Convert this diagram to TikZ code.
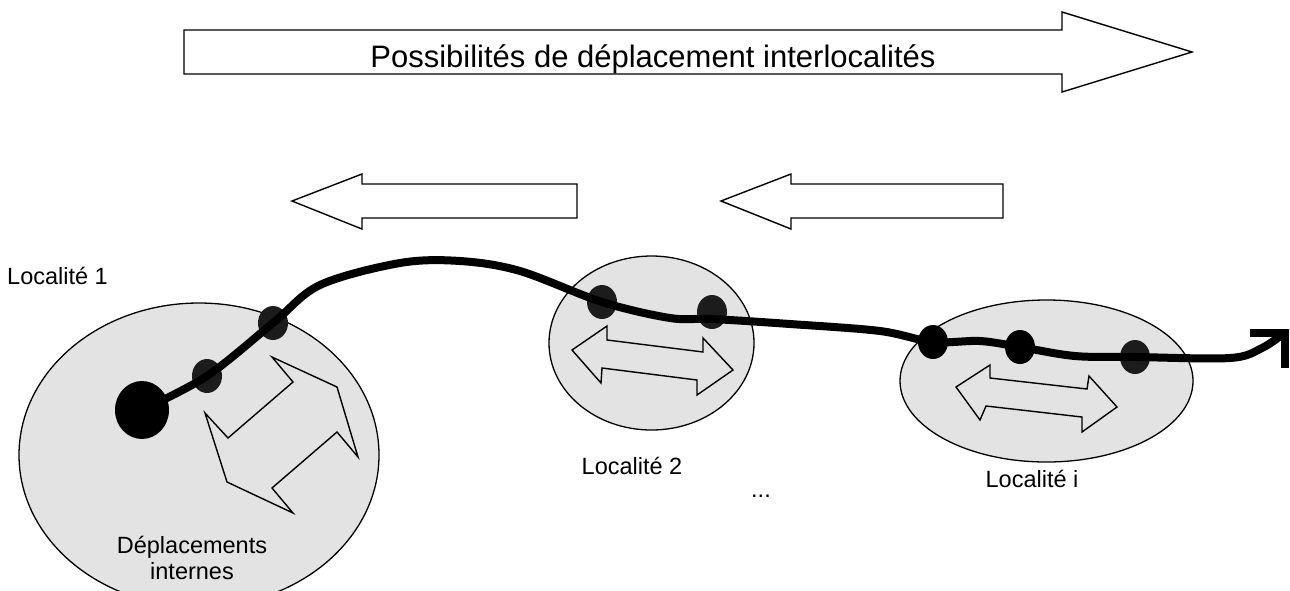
\documentclass[tikz,border=0pt]{standalone}
\usepackage{fontspec}
\setmainfont{Liberation Sans}
\usetikzlibrary{shapes.geometric}
\definecolor{zonegray}{HTML}{E3E3E3}
\definecolor{stopgray}{HTML}{1C1C1C}
\begin{document}
\begin{tikzpicture}[x=1pt,y=-1pt,
  zone/.style={ellipse, draw=black, line width=1.3pt, fill=zonegray, inner sep=0pt, outer sep=0pt},
  bigarrow/.style={draw=black, line width=1.4pt, fill=white, line join=miter},
  dblarrow/.style={draw=black, line width=1.4pt, line join=miter},
  route/.style={line width=8pt, draw=black},
  stopdot/.style={ellipse, fill=stopgray, inner sep=0pt, outer sep=0pt, minimum width=30pt, minimum height=34pt},
  lbl/.style={font=\fontsize{23.5}{28}\selectfont, inner sep=0pt}
]
\useasboundingbox (0,0) rectangle (1290,590);
\fill[white] (0,0) rectangle (1290,590);

% top arrow
\draw[bigarrow] (184,30) -- (1062,30) -- (1062,12) -- (1192,52) -- (1062,92) -- (1062,74) -- (184,74) -- cycle;
\node[font=\fontsize{31}{36}\selectfont, anchor=base, inner sep=0pt] (title) at (653,67) {Possibilités de déplacement interlocalités};

% left arrows
\draw[bigarrow] (577,184) -- (362,184) -- (362,174) -- (292,201) -- (362,229) -- (362,218) -- (577,218) -- cycle;
\draw[bigarrow] (1003,184) -- (791,184) -- (791,174) -- (721,201) -- (791,229) -- (791,218) -- (1003,218) -- cycle;

% zones
\node[zone, minimum width=360pt, minimum height=304pt] (loc1) at (199,455) {};
\node[zone, minimum width=205pt, minimum height=174pt] (loc2) at (651.5,343) {};
\node[zone, minimum width=293pt, minimum height=162pt] (loc3) at (1046.5,381) {};

% internal double arrows
\draw[dblarrow] (272,357) -- (337,387) -- (358,457) -- (337,432) -- (272,488) -- (293,513) -- (227,482) -- (205,413) -- (228,438) -- (293,382) -- cycle;
\draw[dblarrow] (572,350) -- (607,326) -- (607,340) -- (703,352) -- (703,338) -- (733,370) -- (697,395) -- (697,380) -- (602,368) -- (601,383) -- cycle;
\draw[dblarrow] (956,387) -- (990,365) -- (990,378) -- (1087,389) -- (1089,376) -- (1117,407) -- (1082,432) -- (1082,417) -- (986,406) -- (980,420) -- cycle;

% stops
\node[ellipse, fill=black, inner sep=0pt, minimum width=54pt, minimum height=58pt] (s0) at (142,410) {};
\node[stopdot] (s1) at (207,376) {};
\node[stopdot] (s2) at (273,323) {};
\node[stopdot] (s3) at (602,302) {};
\node[stopdot] (s4) at (712,312) {};
\node[stopdot, fill=black] (s5) at (933,342) {};
\node[stopdot, fill=black] (s6) at (1020,347) {};
\node[stopdot] (s7) at (1135,357) {};
\coordinate (tip) at (1285,332.5);

% route
\draw[route] plot[smooth, tension=0.55] coordinates {(s0.center) (s1.center) (s2.center) (320,285) (400,263) (460,261) (520,271) (s3.center) (670,318) (712,319) (790,324) (880,331) (s5.center) (980,341) (s6.center) (1075,356) (s7.center) (1230,358) (1262,348) (tip)};
\draw[route, line join=miter, line cap=butt] (1250,332.5) -- (tip) -- (1285,368);

% labels
\node[lbl, anchor=base west] (t1) at (7,284) {Localité 1};
\node[lbl, anchor=base] (t2) at (632,474) {Localité 2};
\node[lbl, anchor=base] (t3) at (1032,487) {Localité i};
\node[lbl, anchor=base] (tdots) at (761,497) {...};
\node[lbl, anchor=base] (t4) at (192,553) {Déplacements};
\node[lbl, anchor=base] (t5) at (192,579) {internes};
\end{tikzpicture}
\end{document}
